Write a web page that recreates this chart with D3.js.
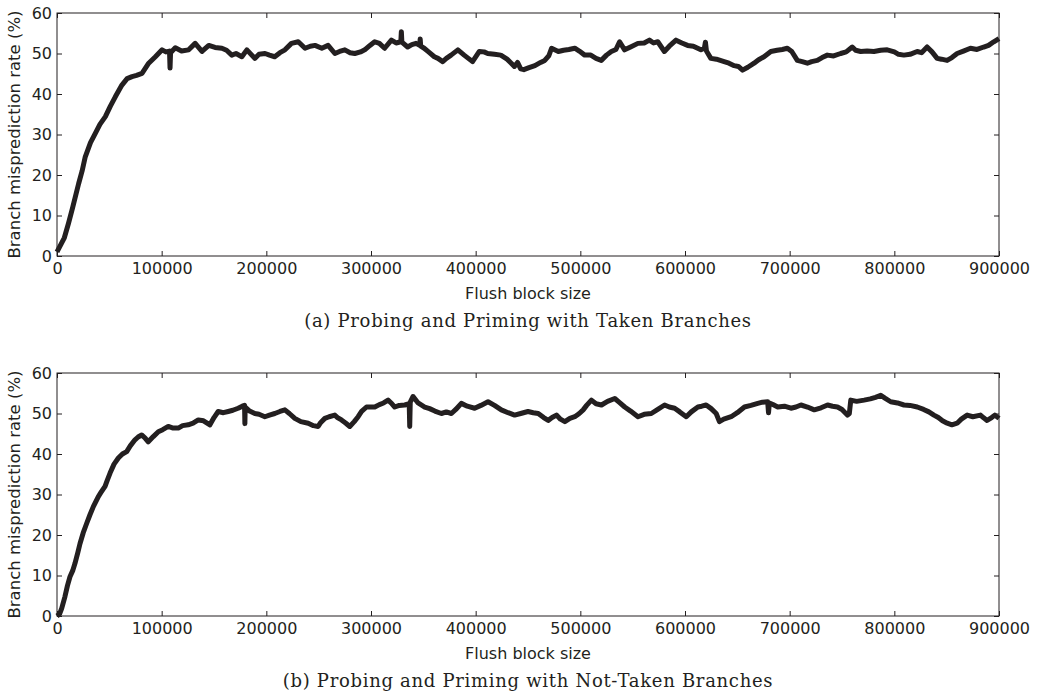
<!DOCTYPE html>
<html lang="en">
<head>
<meta charset="utf-8">
<title>Branch misprediction rate</title>
<script src="https://cdn.jsdelivr.net/npm/d3@7"></script>
<style>
  body { margin: 0; background: #fff; }
  svg { display: block; }
</style>
</head>
<body>
<script>
// ---- data ----
var xTicks = [0, 100000, 200000, 300000, 400000, 500000, 600000, 700000, 800000, 900000];
var yTicks = [0, 10, 20, 30, 40, 50, 60];

var takenX = [0, 3000, 7000, 11000, 15000, 20700, 24000, 27000, 32000, 36600, 41000, 46200, 51000, 55700, 62000, 67000, 71700, 76000, 81200, 87600,
  94000, 100400, 104000, 107500, 108000, 108500, 113000, 119000, 125800, 132000, 138500, 145000, 151000, 157500, 162000, 167000, 171000, 176600, 181400, 189000,
  193000, 198800, 203000, 208000, 213000, 217800, 224000, 230500, 237000, 242000, 246500, 253000, 259000, 265500, 270000, 275000, 280000, 284500, 290000, 294000,
  299000, 303500, 308000, 313000, 319500, 324000, 328500, 329000, 329500, 335000, 339000, 343000, 346500, 347000, 347500, 350800, 355000, 360500, 364000, 368500,
  372000, 376500, 383000, 389000, 393000, 397000, 403500, 408000, 411500, 418000, 424000, 430000, 434000, 437000, 440000, 443000, 446000, 451000, 456600, 462000,
  466000, 470000, 472500, 479000, 484000, 489000, 494700, 499000, 504200, 510000, 515000, 520000, 525000, 529600, 534000, 537500, 542300, 548000, 555000, 561000,
  566000, 570000, 574000, 580300, 585000, 591400, 597000, 602500, 608000, 615200, 618500, 619500, 620500, 624700, 630000, 637400, 642000, 647000, 651000, 655000,
  660000, 666000, 670000, 675500, 682000, 688000, 693000, 697800, 702000, 707300, 712000, 716900, 721000, 726400, 731000, 736000, 742000, 748700, 754000, 759800,
  763000, 767800, 774000, 780500, 787000, 793200, 800000, 804000, 809100, 815000, 821800, 826000, 831300, 836000, 840900, 845000, 850400, 855000, 860000, 866000,
  872700, 879000, 885400, 890000, 895000, 900000];
var takenY = [1.0, 2.5, 4.5, 8.1, 12.0, 17.9, 21.0, 24.5, 28.0, 30.3, 32.5, 34.4, 37.0, 39.3, 42.2, 43.8, 44.3, 44.6, 45.1, 47.6,
  49.2, 50.9, 50.4, 50.6, 46.4, 50.2, 51.4, 50.6, 50.9, 52.5, 50.5, 52.0, 51.5, 51.3, 50.8, 49.6, 50.0, 49.2, 50.9, 48.8,
  49.8, 50.0, 49.6, 49.2, 50.2, 50.9, 52.5, 52.9, 51.3, 51.8, 52.0, 51.3, 52.0, 50.0, 50.5, 50.9, 50.2, 50.0, 50.4, 50.9,
  52.0, 52.9, 52.5, 51.3, 53.3, 52.6, 52.9, 55.4, 52.8, 51.6, 52.2, 52.5, 52.0, 53.6, 51.8, 51.3, 50.4, 49.2, 48.8, 48.0,
  48.8, 49.6, 50.9, 49.6, 48.8, 48.0, 50.5, 50.4, 50.0, 49.8, 49.6, 48.6, 47.6, 46.8, 47.8, 46.2, 46.0, 46.5, 47.0, 47.8,
  48.3, 49.5, 51.3, 50.5, 50.8, 51.0, 51.3, 50.6, 49.6, 49.6, 48.8, 48.3, 49.6, 50.5, 51.0, 52.9, 50.9, 51.6, 52.5, 52.6,
  53.3, 52.6, 52.9, 50.5, 51.8, 53.3, 52.6, 52.0, 51.8, 50.9, 51.3, 52.8, 50.6, 48.8, 48.6, 48.0, 47.6, 47.0, 46.8, 45.9,
  46.6, 47.6, 48.4, 49.2, 50.5, 50.8, 51.0, 51.3, 50.5, 48.3, 48.0, 47.6, 48.0, 48.3, 49.0, 49.6, 49.4, 50.0, 50.4, 51.6,
  50.8, 50.5, 50.6, 50.5, 50.8, 50.9, 50.4, 49.8, 49.6, 49.8, 50.5, 50.2, 51.6, 50.4, 48.8, 48.6, 48.3, 49.0, 50.0, 50.6,
  51.3, 51.0, 51.6, 52.0, 52.9, 53.7];

var notTakenX = [0, 2500, 4500, 7600, 10000, 12400, 15000, 17200, 20000, 22000, 25000, 28400, 31500, 34700, 39500, 42000, 45900, 48000, 50700, 54500,
  58600, 62500, 66600, 70000, 74500, 77500, 80900, 84000, 87200, 92000, 96800, 101000, 106300, 111000, 115900, 120000, 125400, 130000, 135000, 140000,
  146100, 150000, 154000, 159000, 163600, 168000, 173100, 177000, 179200, 179500, 179800, 184000, 189000, 193000, 198600, 203000, 208100, 213000, 217700, 222000,
  227200, 233000, 240000, 245000, 249500, 252000, 255900, 260000, 265400, 268000, 271800, 276000, 279700, 284000, 287700, 291000, 295700, 300000, 303600, 308000,
  312000, 316300, 320000, 322700, 327000, 332200, 336500, 337000, 337500, 340200, 345000, 351300, 356000, 361000, 367200, 372000, 376800, 381000, 386300, 392000,
  399000, 405000, 411800, 418000, 424500, 431000, 437200, 443000, 450000, 455000, 459800, 465000, 469300, 473000, 477200, 481000, 485200, 490000, 494700, 499000,
  502700, 506000, 510600, 515000, 520200, 526000, 532900, 537000, 542400, 548000, 555100, 561000, 567800, 574000, 580500, 585000, 590100, 595000, 601200, 606000,
  612300, 616000, 620200, 625000, 629800, 632900, 637000, 644100, 650000, 656800, 663000, 669500, 674000, 679000, 679800, 680600, 684000, 688600, 695000, 701200,
  706000, 710800, 717000, 723500, 730000, 736200, 741000, 745700, 750000, 755200, 757000, 758400, 764000, 771100, 777000, 782000, 787000, 791000, 796500, 803000,
  809200, 815000, 821900, 828000, 833000, 837800, 842000, 846000, 850500, 855000, 860000, 864000, 869600, 875000, 882300, 885000, 888600, 893000, 896000, 900000];
var notTakenY = [0.0, 0.5, 1.9, 4.8, 7.5, 9.7, 11.2, 13.0, 15.8, 17.9, 20.5, 22.9, 25.0, 27.0, 29.5, 30.5, 32.0, 33.5, 35.3, 37.5,
  39.0, 40.0, 40.6, 42.0, 43.5, 44.2, 44.7, 44.0, 43.0, 44.3, 45.5, 46.0, 46.8, 46.4, 46.4, 47.0, 47.2, 47.6, 48.4, 48.2,
  47.2, 49.0, 50.5, 50.2, 50.5, 50.8, 51.3, 51.8, 52.0, 47.5, 51.6, 50.6, 50.0, 49.8, 49.2, 49.6, 50.0, 50.5, 50.9, 50.0,
  48.8, 48.0, 47.6, 47.0, 46.8, 47.8, 48.8, 49.2, 49.6, 49.0, 48.4, 47.6, 46.8, 48.0, 49.2, 50.5, 51.6, 51.6, 51.6, 52.2,
  52.6, 53.3, 52.4, 51.6, 52.0, 52.1, 52.4, 46.8, 52.8, 54.2, 52.6, 51.6, 51.2, 50.6, 50.0, 50.4, 50.0, 51.0, 52.5, 51.8,
  51.3, 52.0, 52.9, 52.0, 50.9, 50.2, 49.6, 50.0, 50.5, 50.2, 50.0, 49.0, 48.3, 49.0, 49.6, 48.6, 48.0, 48.8, 49.2, 50.0,
  50.9, 52.0, 53.3, 52.4, 52.1, 53.0, 53.7, 52.8, 51.6, 50.6, 49.2, 49.8, 50.0, 51.0, 52.1, 51.6, 51.3, 50.4, 49.2, 50.4,
  51.6, 51.8, 52.1, 51.2, 50.0, 48.0, 48.6, 49.2, 50.2, 51.6, 52.0, 52.5, 52.8, 52.9, 50.2, 52.6, 52.2, 51.6, 51.8, 51.3,
  51.6, 52.1, 51.6, 50.9, 51.4, 52.1, 51.8, 51.6, 51.0, 49.6, 50.0, 53.3, 53.0, 53.3, 53.6, 54.0, 54.5, 53.8, 52.9, 52.6,
  52.1, 52.0, 51.6, 51.0, 50.4, 49.6, 49.0, 48.2, 47.6, 47.2, 47.6, 48.6, 49.6, 49.2, 49.6, 49.0, 48.3, 49.0, 49.6, 48.8];

var panels = [
  { xs: takenX, ys: takenY, top: 13, caption: "(a) Probing and Priming with Taken Branches" },
  { xs: notTakenX, ys: notTakenY, top: 373, caption: "(b) Probing and Priming with Not-Taken Branches" }
];

// ---- layout ----
var w = 1041, h = 694;
var left = 57, right = 999, plotH = 243;
var ink = "#231f20";
var sans = "'DejaVu Sans', sans-serif";
var serif = "'DejaVu Serif', serif";

var svg = d3.select("body").append("svg")
  .attr("width", w)
  .attr("height", h);

var x = d3.scaleLinear().domain([0, 900000]).range([left, right]);

panels.forEach(function(p) {
  var y = d3.scaleLinear().domain([0, 60]).range([p.top + plotH, p.top]);
  var g = svg.append("g");

  // frame
  g.append("rect")
    .attr("x", left).attr("y", p.top)
    .attr("width", right - left).attr("height", plotH)
    .attr("fill", "none").attr("stroke", ink).attr("stroke-width", 1);

  // axes with inward ticks
  var bottom = g.append("g")
    .attr("transform", "translate(0," + (p.top + plotH) + ")")
    .call(d3.axisBottom(x).tickValues(xTicks).tickFormat(d3.format("d"))
      .tickSizeInner(-5).tickSizeOuter(0).tickPadding(7));
  var leftAx = g.append("g")
    .attr("transform", "translate(" + left + ",0)")
    .call(d3.axisLeft(y).tickValues(yTicks).tickSizeInner(-5).tickSizeOuter(0).tickPadding(5));
  var topAx = g.append("g")
    .attr("transform", "translate(0," + p.top + ")")
    .call(d3.axisTop(x).tickValues(xTicks).tickFormat("").tickSizeInner(-5).tickSizeOuter(0));
  var rightAx = g.append("g")
    .attr("transform", "translate(" + right + ",0)")
    .call(d3.axisRight(y).tickValues(yTicks).tickFormat("").tickSizeInner(-5).tickSizeOuter(0));

  [bottom, leftAx, topAx, rightAx].forEach(function(a) {
    a.select(".domain").remove();
    a.selectAll("line").attr("stroke", ink);
    a.selectAll("text")
      .attr("fill", ink)
      .style("font-family", sans)
      .style("font-size", "16px");
  });

  // the series
  var data = p.xs.map(function(d, i) { return [d, p.ys[i]]; });
  var line = d3.line()
    .x(function(d) { return x(d[0]); })
    .y(function(d) { return y(d[1]); });
  g.append("path")
    .datum(data)
    .attr("d", line)
    .attr("fill", "none")
    .attr("stroke", ink)
    .attr("stroke-width", 5)
    .attr("stroke-linejoin", "round");

  // labels
  g.append("text")
    .attr("transform", "translate(20," + (p.top + plotH / 2) + ") rotate(-90)")
    .attr("text-anchor", "middle")
    .attr("fill", ink)
    .style("font-family", sans)
    .style("font-size", "16.5px")
    .text("Branch misprediction rate (%)");

  g.append("text")
    .attr("x", (left + right) / 2)
    .attr("y", p.top + plotH + 43)
    .attr("text-anchor", "middle")
    .attr("fill", ink)
    .style("font-family", sans)
    .style("font-size", "16px")
    .text("Flush block size");

  g.append("text")
    .attr("x", (left + right) / 2)
    .attr("y", p.top + plotH + 71)
    .attr("text-anchor", "middle")
    .attr("fill", ink)
    .style("font-family", serif)
    .style("font-size", "18px")
    .style("letter-spacing", "0.7px")
    .text(p.caption);
});
</script>
</body>
</html>
